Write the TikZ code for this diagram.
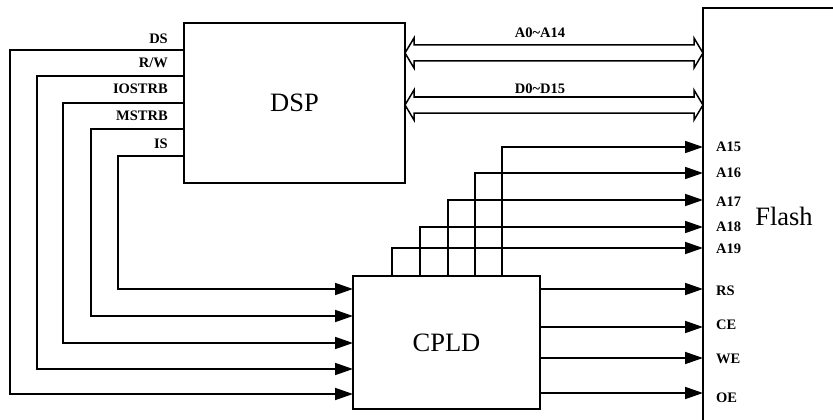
\documentclass[tikz,border=0pt]{standalone}
\usepackage{fontspec}
\setmainfont{Liberation Serif}
\usetikzlibrary{arrows.meta,calc}
\begin{document}
\begin{tikzpicture}[x=1pt,y=-1pt,
 box/.style={draw,line width=1.5pt,inner sep=0,outer sep=0},
 wire/.style={line width=1.8pt},
 sig/.style={wire,-{Triangle[length=18pt,width=12pt]}},
 lab/.style={font=\fontsize{14.5}{15}\selectfont\bfseries,inner sep=0},
 big/.style={font=\fontsize{26.5}{28}\selectfont},
 bus/.style={line width=1.5pt,line join=miter}]
\clip (0,0) rectangle (833,420);
% blocks
\node[box,big,minimum width=221pt,minimum height=160pt,anchor=north west] (dsp) at (184,23) {DSP};
\node[box,big,minimum width=187pt,minimum height=133pt,anchor=north west] (cpld) at (353,276) {CPLD};
\node[box,minimum width=200pt,minimum height=450pt,anchor=north west] (flash) at (703,8) {};
\node[big,inner sep=0,anchor=base] (flashlab) at (784,225) {Flash};
% DSP control signals to CPLD
\draw[sig] ($(dsp.north west)+(0,27)$) -| (10,394) -- ($(cpld.north west)+(0,118)$);
\draw[sig] ($(dsp.north west)+(0,53)$) -| (37,369) -- ($(cpld.north west)+(0,93)$);
\draw[sig] ($(dsp.north west)+(0,80)$) -| (63,343) -- ($(cpld.north west)+(0,67)$);
\draw[sig] ($(dsp.north west)+(0,106)$) -| (91,316) -- ($(cpld.north west)+(0,40)$);
\draw[sig] ($(dsp.north west)+(0,133)$) -| (118,289) -- ($(cpld.north west)+(0,13)$);
\node[lab,anchor=base east] (lDS) at (168,44) {DS};
\node[lab,anchor=base east] (lRW) at (168,68) {R/W};
\node[lab,anchor=base east] (lIO) at (168,94) {IOSTRB};
\node[lab,anchor=base east] (lMS) at (168,121) {MSTRB};
\node[lab,anchor=base east] (lIS) at (168,148) {IS};
% buses
\coordinate (aL) at ($(dsp.north east)+(0,30)$);
\coordinate (aR) at ($(flash.north west)+(0,45)$);
\draw[bus] (aL) -- ($(aL)+(9,-15)$) -- ($(aL)+(9,-8)$) -- ($(aR)+(-9,-8)$) -- ($(aR)+(-9,-15)$) -- (aR)
  -- ($(aR)+(-9,15)$) -- ($(aR)+(-9,8)$) -- ($(aL)+(9,8)$) -- ($(aL)+(9,15)$) -- cycle;
\coordinate (dL) at ($(dsp.north east)+(0,82)$);
\coordinate (dR) at ($(flash.north west)+(0,97)$);
\draw[bus] (dL) -- ($(dL)+(9,-15)$) -- ($(dL)+(9,-8)$) -- ($(dR)+(-9,-8)$) -- ($(dR)+(-9,-15)$) -- (dR)
  -- ($(dR)+(-9,15)$) -- ($(dR)+(-9,8)$) -- ($(dL)+(9,8)$) -- ($(dL)+(9,15)$) -- cycle;
\node[lab,anchor=base] (lA) at (540,38) {A0\char`\~A14};
\node[lab,anchor=base] (lD) at (540,93) {D0\char`\~D15};
% CPLD address outputs
\draw[sig] ($(cpld.north west)+(39,0)$) |- ($(flash.north west)+(0,240)$);
\draw[sig] ($(cpld.north west)+(67,0)$) |- ($(flash.north west)+(0,219)$);
\draw[sig] ($(cpld.north west)+(95,0)$) |- ($(flash.north west)+(0,192)$);
\draw[sig] ($(cpld.north west)+(122,0)$) |- ($(flash.north west)+(0,165)$);
\draw[sig] ($(cpld.north west)+(149,0)$) |- ($(flash.north west)+(0,139)$);
% CPLD control outputs
\draw[sig] ($(cpld.north east)+(0,13)$) -- ($(flash.north west)+(0,281)$);
\draw[sig] ($(cpld.north east)+(0,51)$) -- ($(flash.north west)+(0,319)$);
\draw[sig] ($(cpld.north east)+(0,82)$) -- ($(flash.north west)+(0,350)$);
\draw[sig] ($(cpld.north east)+(0,117)$) -- ($(flash.north west)+(0,385)$);
% Flash pin labels
\node[lab,anchor=base west] (p15) at (716,151) {A15};
\node[lab,anchor=base west] (p16) at (716,177) {A16};
\node[lab,anchor=base west] (p17) at (716,206) {A17};
\node[lab,anchor=base west] (p18) at (716,231) {A18};
\node[lab,anchor=base west] (p19) at (716,253) {A19};
\node[lab,anchor=base west] (pRS) at (716,295) {RS};
\node[lab,anchor=base west] (pCE) at (716,329) {CE};
\node[lab,anchor=base west] (pWE) at (716,363) {WE};
\node[lab,anchor=base west] (pOE) at (716,402) {OE};
\end{tikzpicture}
\end{document}
